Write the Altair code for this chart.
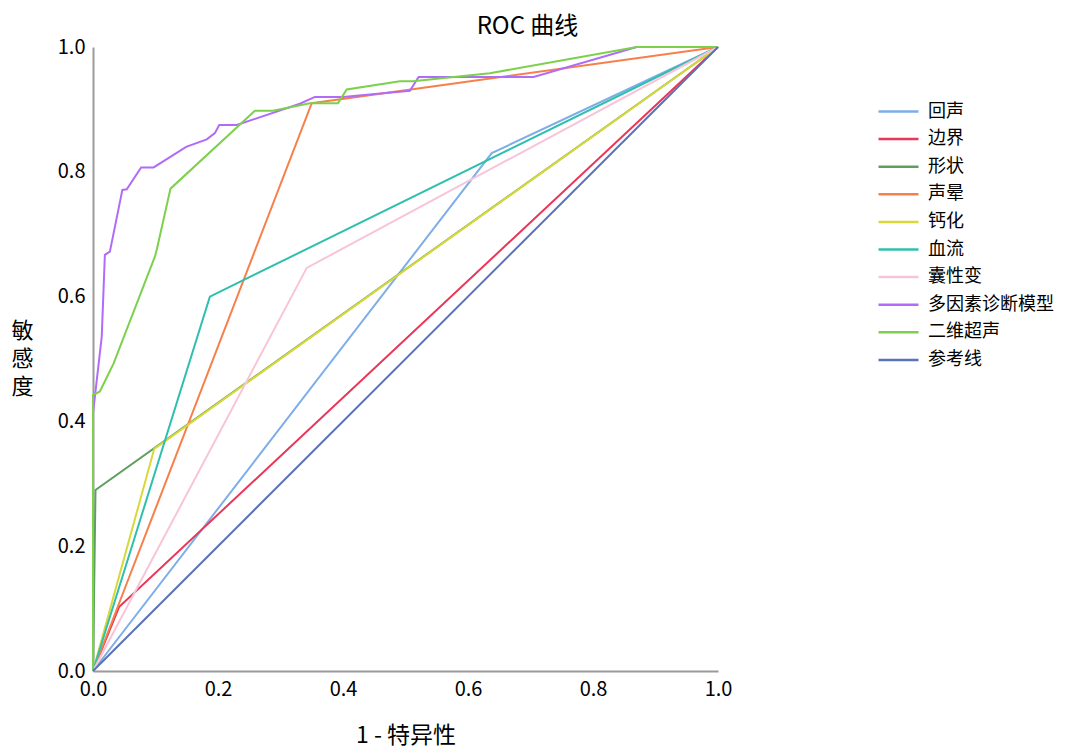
import altair as alt
import pandas as pd

names = ["回声", "边界", "形状", "声晕", "钙化", "血流", "囊性变", "多因素诊断模型", "二维超声", "参考线"]
colors = ["#7eaee8", "#e8375a", "#5f9e5f", "#f7804a", "#d8d838", "#30bfae", "#f8c4da", "#b06cf8", "#7dd04c", "#5a72b8"]
opacities = [1, 1, 1, 1, 0.6, 1, 1, 1, 1, 1]

x_huisheng = [0, 0.638, 1]
y_huisheng = [0, 0.830, 1]
x_bianjie = [0, 0.042, 1]
y_bianjie = [0, 0.103, 1]
x_xingzhuang = [0, 0.004, 1]
y_xingzhuang = [0, 0.290, 1]
x_shengyun = [0, 0.350, 1]
y_shengyun = [0, 0.910, 1]
x_gaihua = [0, 0.098, 1]
y_gaihua = [0, 0.356, 1]
x_xueliu = [0, 0.187, 1]
y_xueliu = [0, 0.600, 1]
x_nangxing = [0, 0.342, 1]
y_nangxing = [0, 0.646, 1]
x_multi = [0, 0, 0.014, 0.019, 0.027, 0.047, 0.054, 0.077, 0.097, 0.149, 0.182, 0.195, 0.202, 0.230,
           0.331, 0.355, 0.400, 0.507, 0.521, 0.705, 0.870, 1]
y_multi = [0, 0.413, 0.536, 0.667, 0.672, 0.771, 0.772, 0.807, 0.807, 0.840, 0.852, 0.862, 0.875, 0.875,
           0.909, 0.920, 0.920, 0.930, 0.952, 0.952, 1.0, 1.0]
x_erwei = [0, 0, 0.011, 0.033, 0.099, 0.102, 0.124, 0.259, 0.288, 0.347, 0.392, 0.406, 0.491, 0.512,
           0.635, 0.870, 1]
y_erwei = [0, 0.442, 0.448, 0.493, 0.664, 0.675, 0.773, 0.898, 0.898, 0.910, 0.910, 0.932, 0.945, 0.945,
           0.958, 1.0, 1.0]
x_ref = [0, 1]
y_ref = [0, 1]

series = [
    (x_huisheng, y_huisheng), (x_bianjie, y_bianjie), (x_xingzhuang, y_xingzhuang),
    (x_shengyun, y_shengyun), (x_gaihua, y_gaihua), (x_xueliu, y_xueliu),
    (x_nangxing, y_nangxing), (x_multi, y_multi), (x_erwei, y_erwei), (x_ref, y_ref),
]

rows = []
for name, (xs, ys) in zip(names, series):
    for i, (xv, yv) in enumerate(zip(xs, ys)):
        rows.append({"name": name, "fpr": xv, "tpr": yv, "idx": i})
df = pd.DataFrame(rows)

font = "Noto Sans CJK SC"

chart = alt.Chart(df).mark_line(strokeWidth=2, clip=False).encode(
    x=alt.X("fpr:Q", scale=alt.Scale(domain=[0, 1], nice=False, zero=False),
            axis=alt.Axis(title="1 - 特异性", values=[0, 0.2, 0.4, 0.6, 0.8, 1.0], format=".1f",
                          grid=False, ticks=False, domainColor="#9a9a9a", domainWidth=2,
                          labelFont=font, labelFontSize=20, labelColor="#000", labelPadding=8,
                          labelFlush=False,
                          titleFont=font, titleFontSize=23, titleFontWeight="normal", titleColor="#000",
                          titleY=64, titleBaseline="middle")),
    y=alt.Y("tpr:Q", scale=alt.Scale(domain=[0, 1], nice=False, zero=False),
            axis=alt.Axis(title=["敏", "感", "度"], values=[0, 0.2, 0.4, 0.6, 0.8, 1.0], format=".1f",
                          grid=False, ticks=False, domainColor="#9a9a9a", domainWidth=2,
                          labelFont=font, labelFontSize=20, labelColor="#000", labelPadding=8,
                          labelFlush=False,
                          titleFont=font, titleFontSize=22, titleFontWeight="normal", titleColor="#000",
                          titleAngle=0, titleAlign="center", titleBaseline="top",
                          titleX=-71, titleY=273, titleLineHeight=28)),
    color=alt.Color("name:N", scale=alt.Scale(domain=names, range=colors),
                    legend=alt.Legend(title=None, orient="none", legendX=794, legendY=53,
                                      symbolType="M-2,0L2,0", symbolSize=400, symbolStrokeWidth=2.5,
                                      labelFont=font, labelFontSize=18, labelColor="#000",
                                      labelOffset=18, rowPadding=6.6, padding=0)),
    strokeOpacity=alt.StrokeOpacity("name:N", scale=alt.Scale(domain=names, range=opacities), legend=None),
    order="idx:Q",
).properties(
    width=625, height=624,
    title=alt.TitleParams("ROC 曲线", font=font, fontSize=24, fontWeight="normal", color="#000",
                          anchor="middle", dx=122, dy=6),
    padding={"left": 2, "top": 7, "right": 5, "bottom": 3},
).configure_view(stroke=None)

chart.save("out.html", embed_options={"renderer": "svg", "actions": False})
